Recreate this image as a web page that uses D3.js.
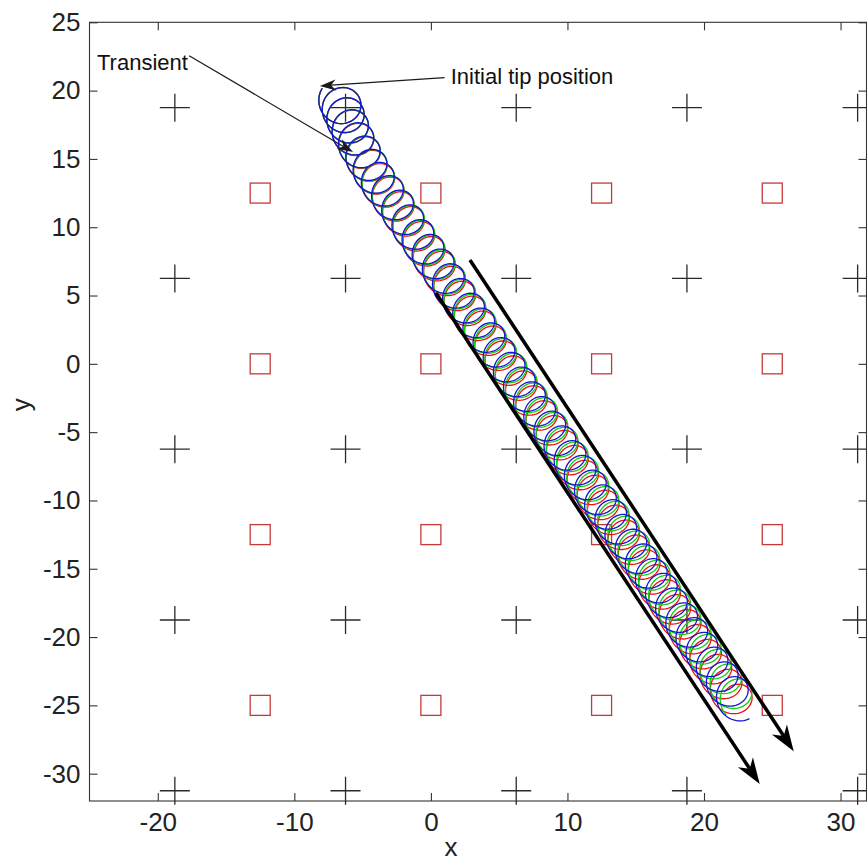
<!DOCTYPE html>
<html lang="en">
<head>
<meta charset="UTF-8">
<title>Spiral tip trajectory</title>
<style>
  body { margin: 0; background: #fff; }
  svg { display: block; font-family: "Liberation Sans", Arial, sans-serif; }
</style>
</head>
<body>
<svg id="chart" width="867" height="862"></svg>
<script src="https://cdn.jsdelivr.net/npm/d3@7"></script>
<script>
/* global d3 */

// axis ticks
var xTicks = [-20, -10, 0, 10, 20, 30];
var yTicks = [-30, -25, -20, -15, -10, -5, 0, 5, 10, 15, 20, 25];

// "+" lattice and red square lattice
var crossX = [-18.75, -6.25, 6.25, 18.75, 31.25];
var crossY = [18.75, 6.25, -6.25, -18.75, -31.25];
var squareX = [-12.5, 0, 12.5, 25];
var squareY = [12.5, 0, -12.5, -25];

// centre of every loop of the tip
var loopCenters = [
  [-6.73, 19.31], [-6.52, 18.65], [-6.22, 17.92], [-5.86, 17.04],
  [-5.42, 16.09], [-4.90, 15.14], [-4.39, 14.19], [-3.81, 13.24],
  [-3.07, 12.28], [-2.33, 11.20], [-1.58, 10.12], [-0.84, 9.04],
  [-0.10, 7.96], [0.65, 6.89], [1.39, 5.81], [2.13, 4.73],
  [2.87, 3.65], [3.62, 2.57], [4.36, 1.49], [5.10, 0.41],
  [5.85, -0.67], [6.59, -1.75], [7.33, -2.83], [8.08, -3.91],
  [8.82, -4.98], [9.56, -6.06], [10.30, -7.14], [11.05, -8.22],
  [11.79, -9.30], [12.53, -10.38], [13.28, -11.46], [14.02, -12.54],
  [14.76, -13.62], [15.51, -14.70], [16.25, -15.77], [16.99, -16.85],
  [17.73, -17.93], [18.48, -19.01], [19.22, -20.09], [19.96, -21.17],
  [20.71, -22.25], [21.45, -23.33], [22.19, -24.41]
];
// loop radius: larger during the transient, then steady
var transientRadius = [1.5, 1.47, 1.44, 1.42, 1.4, 1.38, 1.36, 1.35];
var steadyRadius = 1.34;
var startAngle = 145;   // degrees, tip starts at upper left of first loop
var tailLoops = 0.45;   // part of a loop drawn after the last centre

// three runs: phase lag (degrees) built up by the end, small offset of each run
var seriesNames = ["red", "green", "blue"];
var seriesLag = [170, 85, 0];
var seriesOffset = [[-0.06, -0.05], [0.1, 0.08], [0, 0]];
var seriesColor = { red: "#ee1111", green: "#11cc11", blue: "#1515d0" };

// annotations (data coordinates)
var labels = [
  { text: "Transient", x: -24.45, y: 21.5 },
  { text: "Initial tip position", x: 1.45, y: 20.45 }
];
var thinArrows = [
  { from: [-17.7, 22.55], to: [-5.7, 15.5] },
  { from: [1.0, 20.95], to: [-8.13, 20.34] }
];
var thickArrows = [
  { from: [0.37, 5.18], to: [24.08, -30.75] },
  { from: [2.86, 7.60], to: [26.57, -28.35] }
];

var svg = d3.select("#chart");
var x = d3.scaleLinear().domain([-25, 31.9]).range([89.5, 866.5]);
var y = d3.scaleLinear().domain([-32, 25]).range([801, 22.3]);

// axes, ticks pointing inward
var axisColor = "#333";
var fmt = d => String(d);
function styleAxis(g) {
  g.select(".domain").remove();
  g.selectAll(".tick line").attr("stroke", axisColor).attr("stroke-width", 1.1);
  g.selectAll(".tick text").attr("fill", "#222").style("font-size", "26px");
}
svg.append("g").attr("transform", "translate(0," + y.range()[0] + ")")
  .call(d3.axisBottom(x).tickValues(xTicks).tickSize(-8).tickPadding(12).tickFormat(fmt))
  .call(styleAxis);
svg.append("g").attr("transform", "translate(0," + y.range()[1] + ")")
  .call(d3.axisTop(x).tickValues(xTicks).tickSize(-8).tickFormat(""))
  .call(styleAxis);
svg.append("g").attr("transform", "translate(" + x.range()[0] + ",0)")
  .call(d3.axisLeft(y).tickValues(yTicks).tickSize(-8).tickPadding(9).tickFormat(fmt))
  .call(styleAxis);
svg.append("g").attr("transform", "translate(" + x.range()[1] + ",0)")
  .call(d3.axisRight(y).tickValues(yTicks).tickSize(-8).tickFormat(""))
  .call(styleAxis);

svg.append("rect")
  .attr("x", x.range()[0]).attr("y", y.range()[1])
  .attr("width", x.range()[1] - x.range()[0])
  .attr("height", y.range()[0] - y.range()[1])
  .attr("fill", "none").attr("stroke", axisColor).attr("stroke-width", 1.1);

svg.append("text").attr("x", x(0) + 20).attr("y", 856)
  .attr("text-anchor", "middle").style("font-size", "26px").attr("fill", "#222").text("x");
svg.append("text").attr("transform", "translate(30," + y(-3) + ") rotate(-90)")
  .attr("text-anchor", "middle").style("font-size", "26px").attr("fill", "#222").text("y");

// lattice markers
var squares = [];
squareY.forEach(function (sy) { squareX.forEach(function (sx) { squares.push([sx, sy]); }); });
svg.append("g").selectAll("rect").data(squares).join("rect")
  .attr("x", d => x(d[0]) - 10).attr("y", d => y(d[1]) - 10)
  .attr("width", 20).attr("height", 20)
  .attr("fill", "none").attr("stroke", "#c43a3a").attr("stroke-width", 1.3);

var crosses = [];
crossY.forEach(function (cy) { crossX.forEach(function (cx) { crosses.push([cx, cy]); }); });
svg.append("g").selectAll("path").data(crosses).join("path")
  .attr("d", d => "M" + (x(d[0]) - 15) + "," + y(d[1]) + "h30M" + x(d[0]) + "," + (y(d[1]) - 14) + "v28")
  .attr("stroke", "#2a2a2a").attr("stroke-width", 1.3).attr("fill", "none");

// tip trajectories: tip turns once around each loop centre
var nC = loopCenters.length;
function radiusAt(i) { return i < transientRadius.length ? transientRadius[i] : steadyRadius; }
function centerAt(s) {
  var i = Math.min(Math.floor(s), nC - 2), t = s - i;
  var a = loopCenters[i], b = loopCenters[i + 1];
  return [a[0] + (b[0] - a[0]) * t, a[1] + (b[1] - a[1]) * t];
}
function tipPath(lag, off) {
  var pts = [], total = nC - 1 + tailLoops, steps = Math.round(total * 60);
  for (var k = 0; k <= steps; k++) {
    var s = total * k / steps;
    var c = centerAt(s);
    var i = Math.floor(s), t = s - i;
    var r = radiusAt(i) + (radiusAt(i + 1) - radiusAt(i)) * t;
    var a = (startAngle + 360 * s - lag * s / total) * Math.PI / 180;
    var w = s / total;                       // runs separate as time goes on
    pts.push([c[0] + off[0] * w + r * Math.cos(a), c[1] + off[1] * w + r * Math.sin(a)]);
  }
  return pts;
}
var line = d3.line().x(d => x(d[0])).y(d => y(d[1]));
svg.append("g").selectAll("path").data(seriesNames).join("path")
  .attr("d", (d, i) => line(tipPath(seriesLag[i], seriesOffset[i])))
  .attr("fill", "none").attr("stroke", d => seriesColor[d]).attr("stroke-width", 1.3);

// arrows
function arrow(g, a, width, len, half, color) {
  var x1 = x(a.from[0]), y1 = y(a.from[1]), x2 = x(a.to[0]), y2 = y(a.to[1]);
  var dx = x2 - x1, dy = y2 - y1, L = Math.hypot(dx, dy), ux = dx / L, uy = dy / L;
  var bx = x2 - ux * len, by = y2 - uy * len;
  var nx = x2 - ux * len * 0.7, ny = y2 - uy * len * 0.7;
  g.append("line").attr("x1", x1).attr("y1", y1).attr("x2", nx).attr("y2", ny)
    .attr("stroke", color).attr("stroke-width", width);
  g.append("path")
    .attr("d", "M" + x2 + "," + y2 + "L" + (bx - uy * half) + "," + (by + ux * half) +
      "L" + nx + "," + ny + "L" + (bx + uy * half) + "," + (by - ux * half) + "Z")
    .attr("fill", color);
}
var ann = svg.append("g");
thinArrows.forEach(a => arrow(ann, a, 1.2, 16, 5.5, "#1a1a1a"));
thickArrows.forEach(a => arrow(ann, a, 3.5, 26, 9, "#000"));

ann.selectAll("text").data(labels).join("text")
  .attr("x", d => x(d.x)).attr("y", d => y(d.y))
  .style("font-size", "22px").attr("fill", "#111").text(d => d.text);
</script>
</body>
</html>
